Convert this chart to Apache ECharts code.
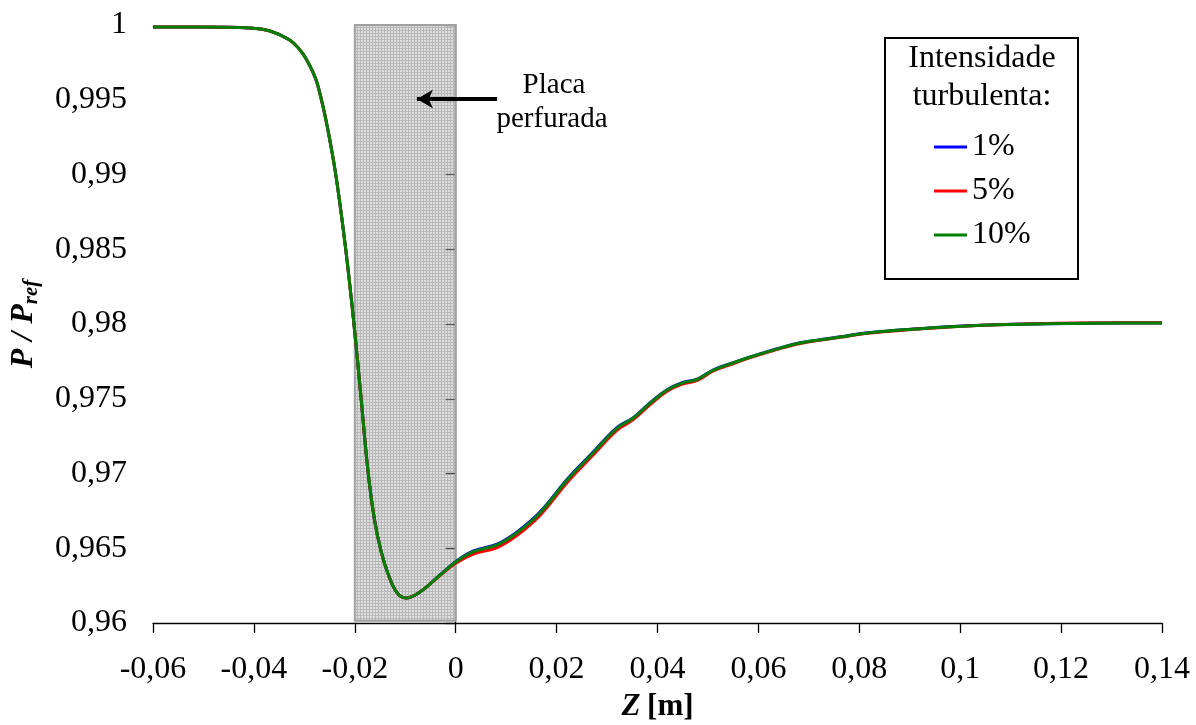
<!DOCTYPE html>
<html><head><meta charset="utf-8">
<script src="https://cdn.jsdelivr.net/npm/echarts@6/dist/echarts.min.js"></script>
<style>html,body{margin:0;padding:0;background:#fff}#c{width:1196px;height:725px}</style>
</head><body><div id="c"></div>
<script>
const zValues = [-0.06,-0.0507,-0.0408,-0.0368,-0.0329,-0.0309,-0.0295,-0.0283,-0.0276,-0.0269,-0.0260,-0.0250,-0.0236,-0.0218,-0.0202,-0.0188,-0.0174,-0.0161,-0.0148,-0.0134,-0.0116,-0.0099,-0.0071,-0.0031,0.0,0.0034,0.0082,0.0121,0.0167,0.0221,0.0270,0.0320,0.0352,0.0386,0.0419,0.0449,0.0479,0.0511,0.0550,0.0584,0.0643,0.0683,0.0736,0.0762,0.0816,0.0915,0.1014,0.1145,0.1318,0.14];
const p10 = [0.99987,0.99987,0.99980,0.99960,0.99900,0.99835,0.99765,0.99685,0.99625,0.99540,0.99410,0.99240,0.98960,0.98500,0.98010,0.97520,0.97020,0.96690,0.96480,0.96328,0.96201,0.96167,0.96207,0.96321,0.96408,0.96475,0.96522,0.96602,0.96736,0.96956,0.97130,0.97304,0.97371,0.97472,0.97558,0.97605,0.97630,0.97692,0.97739,0.97779,0.97839,0.97873,0.97900,0.97913,0.97940,0.97967,0.97987,0.98000,0.98007,0.98007];
const p5  = [0.99987,0.99987,0.99980,0.99960,0.99900,0.99835,0.99765,0.99685,0.99625,0.99540,0.99410,0.99240,0.98960,0.98500,0.98010,0.97520,0.97020,0.96690,0.96480,0.96328,0.96201,0.96167,0.96207,0.96318,0.96400,0.96460,0.96505,0.96585,0.96720,0.96940,0.97115,0.97290,0.97360,0.97462,0.97550,0.97598,0.97623,0.97686,0.97734,0.97775,0.97836,0.97870,0.97898,0.97911,0.97938,0.97966,0.97987,0.98001,0.98008,0.98008];
const p1  = [0.99987,0.99987,0.99980,0.99960,0.99900,0.99835,0.99765,0.99685,0.99625,0.99540,0.99410,0.99240,0.98960,0.98500,0.98010,0.97520,0.97020,0.96690,0.96480,0.96328,0.96201,0.96167,0.96207,0.96322,0.96410,0.96480,0.96528,0.96608,0.96742,0.96962,0.97135,0.97308,0.97374,0.97475,0.97560,0.97607,0.97632,0.97694,0.97741,0.97780,0.97840,0.97874,0.97901,0.97914,0.97941,0.97968,0.97988,0.98000,0.98007,0.98007];
const seriesNames = ['1%','5%','10%'];
const seriesColors = ['#0000ff','#ff0000','#008000'];
const plateRange = [-0.02, 0];
const xTicks = {min:-0.06, max:0.14, interval:0.02};
const yTicks = {min:0.96, max:1, interval:0.005};

const FONT = '"Liberation Serif","Times New Roman",serif';
const pc = document.createElement('canvas');
pc.width = 3; pc.height = 3;
const g = pc.getContext('2d');
g.fillStyle = 'rgba(165,165,165,0.38)'; g.fillRect(0,0,3,3);
g.fillStyle = 'rgba(130,130,130,0.4)'; g.fillRect(0,0,3,1); g.fillRect(0,1,1,2);

const zip = arr => zValues.map((z,i)=>[z,arr[i]]);
const seriesData = [p1,p5,p10];
const chart = echarts.init(document.getElementById('c'));
const lineSeries = seriesNames.map((n,i)=>({
  name:n, type:'line', smooth:0.4, showSymbol:false, symbol:'none',
  data: zip(seriesData[i]), lineStyle:{color:seriesColors[i], width:3}, itemStyle:{color:seriesColors[i]}, z:2
}));
chart.setOption({
  animation:false,
  grid:{left:153, right:34, top:25, bottom:102, outerBoundsMode:'none', containLabel:false},
  xAxis:{type:'value', min:xTicks.min, max:xTicks.max, interval:xTicks.interval,
    axisLine:{lineStyle:{color:'#000',width:1.3}}, axisTick:{length:10,lineStyle:{color:'#000',width:1.3}},
    splitLine:{show:false},
    axisLabel:{color:'#000', fontSize:32, fontFamily:FONT, margin:31,
      formatter:v=>String(+v.toFixed(2)).replace('.',',')},
    name:'{i|Z}  {b|[m]}', nameLocation:'middle', nameGap:68,
    nameTextStyle:{rich:{i:{fontSize:31,fontWeight:'bold',fontStyle:'italic',fontFamily:FONT,color:'#000'},
      b:{fontSize:31,fontWeight:'bold',fontFamily:FONT,color:'#000'}}}
  },
  yAxis:{type:'value', min:yTicks.min, max:yTicks.max, interval:yTicks.interval,
    axisLine:{show:true,lineStyle:{color:'#000',width:1.3}}, axisTick:{show:true,length:10,lineStyle:{color:'#000',width:1.3}},
    splitLine:{show:false},
    axisLabel:{color:'#000', fontSize:32, fontFamily:FONT, margin:26,
      formatter:v=>String(+v.toFixed(3)).replace('.',',')},
    name:'{b|P / P}{s|ref}', nameLocation:'middle', nameGap:111, nameRotate:90,
    nameTextStyle:{rich:{b:{fontSize:32,fontWeight:'bold',fontStyle:'italic',fontFamily:FONT,color:'#000',lineHeight:36},
      s:{fontSize:21,fontWeight:'bold',fontStyle:'italic',fontFamily:FONT,color:'#000',lineHeight:36,verticalAlign:'bottom',padding:[10,0,0,0]}}}
  },
  legend:{data:seriesNames, orient:'vertical', left:934, top:131, itemWidth:33, itemHeight:3, icon:'rect',
    itemGap:12, padding:0, textStyle:{fontSize:32, fontFamily:FONT, color:'#000', lineHeight:32}},
  graphic:[
    {type:'rect', left:884, top:37, shape:{width:193, height:241}, style:{fill:'#fff', stroke:'#000', lineWidth:2}, z:1},
    {type:'text', x:982, y:59, style:{text:'Intensidade', fontSize:32, fontFamily:FONT, fill:'#000', textAlign:'center', textVerticalAlign:'middle'}, z:2},
    {type:'text', x:982, y:97, style:{text:'turbulenta:', fontSize:32, fontFamily:FONT, fill:'#000', textAlign:'center', textVerticalAlign:'middle'}, z:2},
    {type:'text', x:554, y:85, style:{text:'Placa', fontSize:29, fontFamily:FONT, fill:'#000', textAlign:'center', textVerticalAlign:'middle'}, z:2},
    {type:'text', x:552, y:119, style:{text:'perfurada', fontSize:29, fontFamily:FONT, fill:'#000', textAlign:'center', textVerticalAlign:'middle'}, z:2}
  ],
  series: lineSeries.concat([{
    name:'plate', type:'line', data:[], z:5, silent:true,
    markArea:{silent:true, itemStyle:{color:{image:pc, repeat:'repeat'}, borderColor:'#a0a0a0', borderWidth:2},
      data:[[{coord:[plateRange[0],1]},{coord:[plateRange[1],0.96015]}]]},
    markLine:{silent:true, symbol:['none','arrow'], symbolSize:[14,16], label:{show:false},
      lineStyle:{color:'#000', width:4, type:'solid'},
      data:[[{coord:[0.0082,0.99505]},{coord:[-0.0077,0.99505]}]]}
  }])
});
</script></body></html>
